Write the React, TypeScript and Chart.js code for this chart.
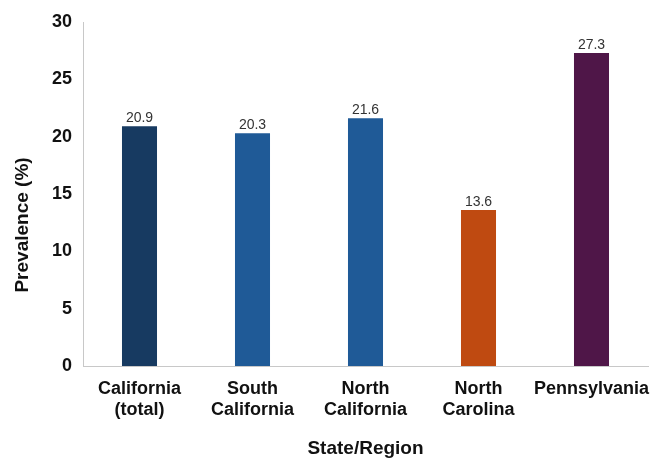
import React, { useEffect, useRef } from "react";
import { Chart, registerables } from "chart.js";

Chart.register(...registerables);

const categories: string[][] = [
  ["California", "(total)"],
  ["South", "California"],
  ["North", "California"],
  ["North", "Carolina"],
  ["Pennsylvania"],
];
const prevalence: number[] = [20.9, 20.3, 21.6, 13.6, 27.3];
const barColors: string[] = ["#173a61", "#1f5a97", "#1f5a97", "#bf4a11", "#4f1648"];
const yTicks: number[] = [0, 5, 10, 15, 20, 25, 30];
const yTitle = "Prevalence (%)";

const FONT = "Arial, 'Liberation Sans', sans-serif";

const valueLabels = {
  id: "valueLabels",
  afterDatasetsDraw(chart: any) {
    const ctx = chart.ctx;
    const meta = chart.getDatasetMeta(0);
    ctx.save();
    ctx.font = `14px ${FONT}`;
    ctx.fillStyle = "#333333";
    ctx.textAlign = "center";
    ctx.textBaseline = "bottom";
    meta.data.forEach((bar: any, i: number) => {
      ctx.fillText(prevalence[i].toFixed(1), bar.x, bar.y - 1);
    });
    ctx.restore();
  },
};

const yTitlePlugin = {
  id: "yTitlePlugin",
  afterDraw(chart: any) {
    const ctx = chart.ctx;
    const area = chart.chartArea;
    ctx.save();
    ctx.translate(23, area.top + (area.bottom - area.top) * 0.59);
    ctx.rotate(-Math.PI / 2);
    ctx.font = `bold 19px ${FONT}`;
    ctx.fillStyle = "#111111";
    ctx.textAlign = "center";
    ctx.textBaseline = "middle";
    ctx.fillText(yTitle, 0, 0);
    ctx.restore();
  },
};

export default function App() {
  const ref = useRef<HTMLCanvasElement | null>(null);
  useEffect(() => {
    document.body.style.margin = "0";
    const chart = new Chart(ref.current!, {
      type: "bar",
      data: {
        labels: categories,
        datasets: [
          {
            data: prevalence,
            backgroundColor: barColors,
            borderWidth: 0,
            barPercentage: 0.31,
            categoryPercentage: 1,
          },
        ],
      },
      options: {
        animation: false,
        responsive: false,
        maintainAspectRatio: false,
        layout: { padding: { top: 22, right: 19, left: 0, bottom: 0 } },
        plugins: { legend: { display: false }, tooltip: { enabled: false } },
        scales: {
          x: {
            grid: { display: false, drawTicks: false },
            border: { display: true, color: "#c8c8c8", width: 1 },
            ticks: {
              color: "#111111",
              font: { family: FONT, size: 18, weight: "bold", lineHeight: 1.18 },
              padding: 12,
              maxRotation: 0,
              autoSkip: false,
            },
            title: {
              display: true,
              text: "State/Region",
              color: "#111111",
              font: { family: FONT, size: 19, weight: "bold" },
              padding: { top: 16, bottom: 0 },
            },
            afterFit(scale: any) {
              scale.height = 94;
            },
          },
          y: {
            min: 0,
            max: 30,
            grid: { display: false, drawTicks: false },
            border: { display: true, color: "#c8c8c8", width: 1 },
            afterBuildTicks(scale: any) {
              scale.ticks = yTicks.map((v) => ({ value: v }));
            },
            ticks: {
              color: "#111111",
              font: { family: FONT, size: 18, weight: "bold" },
              padding: 11,
            },
            title: { display: false },
            afterFit(scale: any) {
              scale.width = 83;
            },
          },
        },
      },
      plugins: [valueLabels, yTitlePlugin],
    });
    return () => chart.destroy();
  }, []);
  return (
    <div style={{ width: 667, height: 460 }}>
      <canvas ref={ref} width={667} height={460} style={{ display: "block" }} />
    </div>
  );
}
